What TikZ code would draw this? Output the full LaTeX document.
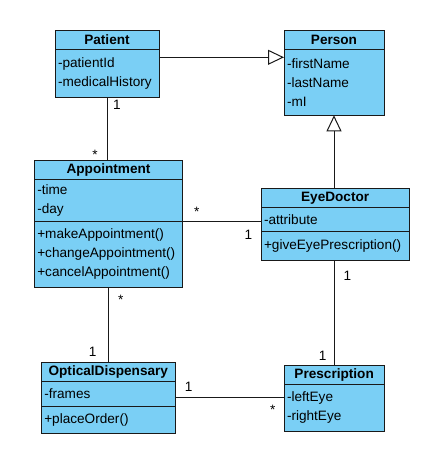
\documentclass[tikz,border=0pt]{standalone}
\usepackage{fontspec}
\setmainfont{Liberation Sans}
\usepackage{tikz}
\usetikzlibrary{arrows.meta}
\tikzset{every picture/.style={line width=1pt}}
\definecolor{classblue}{RGB}{122,207,245}
\definecolor{classline}{rgb}{0.10,0.10,0.10}

\begin{document}
\begin{tikzpicture}[
    x=1pt, y=-1pt,
    font=\fontsize{13.6}{19}\selectfont,
    classhead/.style={
        rectangle, draw=classline, fill=classblue, outer sep=0pt,
        inner sep=0pt, minimum height=19pt,
        font=\fontsize{13.6}{19}\selectfont\bfseries
    },
    classbody/.style={
        rectangle, draw=classline, fill=classblue, outer sep=0pt,
        inner xsep=3pt, inner ysep=1pt, align=left, anchor=north
    },
    assoc/.style={draw=classline},
    gen/.style={draw=classline, -{Triangle[open, length=16pt, width=15pt]}},
    mult/.style={anchor=base, inner sep=0pt},
]

\useasboundingbox (0,0) rectangle (434,458);

%% ===================== CLASS HEADERS =====================
\foreach \n/\x/\y/\w/\t in {patient/55/30/104/Patient,
                            person/284/30/100/Person,
                            appt/34.3/160/148.4/Appointment,
                            eyedoc/261/188.3/148.3/EyeDoctor,
                            optical/41.3/362/134/OpticalDispensary,
                            presc/284/365/100.3/Prescription} {
  \node[classhead, minimum width=\w pt, anchor=north west] (\n) at (\x,\y) {\t};
}

%% ===================== COMPARTMENTS =====================
% Patient
\node[classbody, minimum height=48.3pt, text width=98pt] (patient-attr)
  at (patient.south) {-patientId\\-medicalHistory};

% Person
\node[classbody, minimum height=66.3pt, text width=94pt] (person-attr)
  at (person.south) {-firstName\\-lastName\\-mI};

% Appointment
\node[classbody, minimum height=42.3pt, text width=142.4pt] (appt-attr)
  at (appt.south) {-time\\-day};
\node[classbody, minimum height=66pt, text width=142.4pt] (appt-meth)
  at (appt-attr.south) {+makeAppointment()\\+changeAppointment()\\+cancelAppointment()};

% EyeDoctor
\node[classbody, minimum height=23.7pt, text width=142.3pt] (eyedoc-attr)
  at (eyedoc.south) {-attribute};
\node[classbody, minimum height=29pt, text width=142.3pt] (eyedoc-meth)
  at (eyedoc-attr.south) {+giveEyePrescription()};

% OpticalDispensary
\node[classbody, minimum height=25pt, text width=128pt] (optical-attr)
  at (optical.south) {-frames};
\node[classbody, minimum height=27.3pt, text width=128pt] (optical-meth)
  at (optical-attr.south) {+placeOrder()};

% Prescription
\node[classbody, minimum height=47pt, text width=94.3pt] (presc-attr)
  at (presc.south) {-leftEye\\-rightEye};

%% ===================== RELATIONS =====================
% generalisations
\draw[gen] ([yshift=-8.3pt]patient-attr.north east) -- ([yshift=-8.3pt]person-attr.north west);
\draw[gen] (eyedoc.north -| person-attr.south) -- (person-attr.south);

% associations
\draw[assoc] (patient-attr.south) -- (patient-attr.south |- appt.north);
\draw[assoc] (appt-meth.north east) -- (appt-meth.north east -| eyedoc-attr.west);
\draw[assoc] (eyedoc-meth.south -| presc.north) -- (presc.north);
\draw[assoc] (appt-meth.south -| optical.north) -- (optical.north);
\draw[assoc] ([yshift=-16.3pt]optical-attr.north east)
  -- ([yshift=-16.3pt]optical-attr.north east -| presc-attr.west);

%% ===================== MULTIPLICITIES =====================
\node[mult] (m-pat-top)   at (117,109)   {1};
\node[mult] (m-pat-bot)   at (95,159.6)  {*};
\node[mult] (m-doc-left)  at (196.7,216) {*};
\node[mult] (m-doc-right) at (248.3,239.3) {1};
\node[mult] (m-pre-top)   at (347.3,280.7) {1};
\node[mult] (m-pre-bot)   at (322.7,360) {1};
\node[mult] (m-opt-top)   at (120.7,304.5) {*};
\node[mult] (m-opt-bot)   at (92.7,356.7) {1};
\node[mult] (m-ord-left)  at (188.7,391) {1};
\node[mult] (m-ord-right) at (272.7,414.5) {*};

\end{tikzpicture}
\end{document}
